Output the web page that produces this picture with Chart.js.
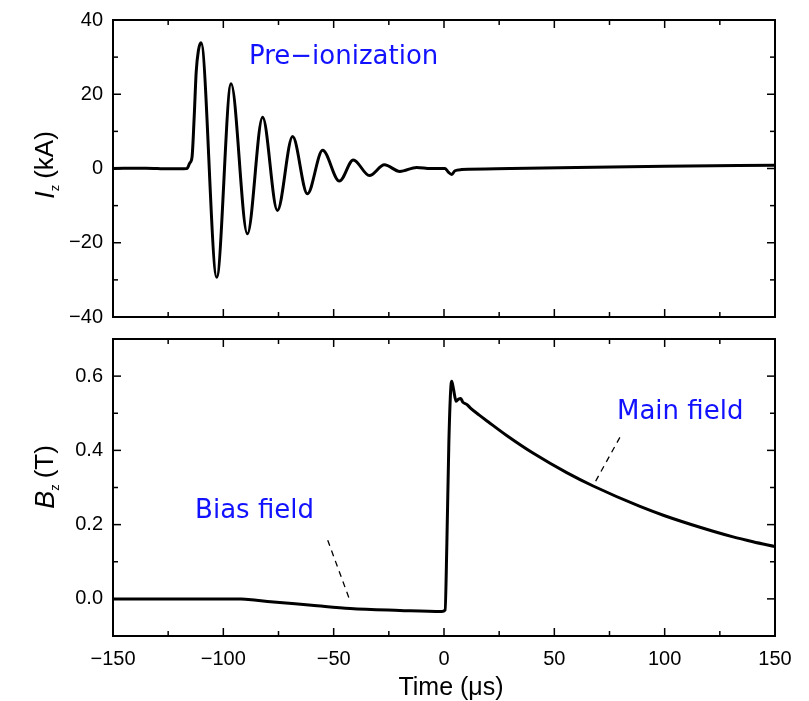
<!DOCTYPE html>
<html>
<head>
<meta charset="utf-8">
<script src="https://cdn.jsdelivr.net/npm/chart.js@4/dist/chart.umd.min.js"></script>
<style>
  html, body { margin: 0; padding: 0; background: #fff; }
  #marco { position: relative; width: 809px; height: 701px; }
  #arriba { position: absolute; left: 0; top: 0; }
  #abajo { position: absolute; left: 0; top: 330px; }
</style>
</head>
<body>
<div id="marco">
  <canvas id="arriba" width="809" height="330"></canvas>
  <canvas id="abajo" width="809" height="371"></canvas>
</div>
<script>
// Datos
// Panel superior: corriente Iz (kA) vs tiempo (us), maximos y minimos de la oscilacion
const tiempoI = [-150, -135, -125, -116.5, -115.2, -114.2, -113.2, -112.3, -111.3, -110.1, -103,
  -96.5, -89.1, -82.2, -75.5, -68.6, -61.9, -55, -47.4, -41.1, -33.8, -27, -20, -12.4, -6,
  0.5, 2, 3.5, 5, 8, 30, 60, 100, 150];
const corriente = [0, 0.1, -0.1, 0, 1.5, 3, 14, 26, 31.8, 33.9, -29.3,
  22.8, -17.6, 13.8, -11.3, 8.6, -6.8, 4.9, -3.4, 2.3, -1.9, 1.0, -0.8, 0.3, 0,
  0, -1.0, -1.6, -0.6, -0.3, 0, 0.3, 0.6, 0.9];

// Panel inferior: campo Bz (T) vs tiempo (us)
const tiempoB = [-150, -120, -92, -85, -80, -60, -42.5, -20, -1, 0.5, 1.3, 2.2, 3.0, 3.5, 4.3, 5.5, 6.5,
  7.6, 8.5, 10.3, 12, 16, 20, 28.4, 40.5, 55.6, 67.6, 88.8, 100, 116, 131, 140, 150];
const campo = [0, 0, 0, -0.004, -0.007, -0.017, -0.026, -0.031, -0.034, -0.03, 0.15, 0.42, 0.56, 0.586, 0.565,
  0.532, 0.538, 0.54, 0.53, 0.524, 0.514, 0.495, 0.477, 0.44, 0.392, 0.34, 0.304, 0.249, 0.224, 0.193, 0.167,
  0.154, 0.141];

// Etiquetas de ejes y anotaciones
const ticksTiempo = [-150, -100, -50, 0, 50, 100, 150];
const ticksI = [-40, -20, 0, 20, 40];
const ticksB = [0.0, 0.2, 0.4, 0.6];
const notasI = [{ texto: 'Pre\u2212ionization', t: -88.4, v: 29.9 }];
const notasB = [
  { texto: 'Main field', t: 78.4, v: 0.503 },
  { texto: 'Bias field', t: -112.8, v: 0.237 }
];
const guiasB = [
  { t1: 79.7, v1: 0.435, t2: 67.5, v2: 0.304 },
  { t1: -52.7, v1: 0.158, t2: -42.6, v2: -0.005 }
];

const NEGRO = '#000';
const AZUL = 'rgb(18,18,255)';
const fuenteTicks = { family: 'Liberation Sans, Arial, sans-serif', size: 20 };

function menos(v) {
  return v < 0 ? '\u2212' + Math.abs(v) : String(v);
}

// Quitar el relleno que Chart.js reserva para las etiquetas extremas
function sinRelleno(s) {
  s.paddingTop = 0; s.paddingBottom = 0; s.paddingLeft = 0; s.paddingRight = 0;
}

// Marco, ticks hacia adentro, titulos y anotaciones
const marco = {
  id: 'marco',
  afterDatasetsDraw(chart, args, o) {
    const { ctx, chartArea: a, scales } = chart;
    const x = scales.x, y = scales.y;
    ctx.save();
    ctx.strokeStyle = NEGRO;
    ctx.lineWidth = 1.5;
    const linea = (x1, y1, x2, y2) => {
      ctx.beginPath(); ctx.moveTo(x1, y1); ctx.lineTo(x2, y2); ctx.stroke();
    };
    // ticks eje x (mayores cada 50, menores cada 25)
    for (let v = -150; v <= 150; v += 25) {
      const px = x.getPixelForValue(v);
      const l = v % 50 === 0 ? 8 : 5;
      linea(px, a.bottom, px, a.bottom - l);
      linea(px, a.top, px, a.top + l);
    }
    // ticks eje y
    const n = Math.round((o.yMax - o.yMin) / o.paso);
    for (let i = 0; i <= n; i++) {
      const v = o.yMin + i * o.paso;
      const py = y.getPixelForValue(v);
      const mayor = Math.abs(Math.round(v / o.paso) % 2) === 0;
      const l = mayor ? 8 : 5;
      linea(a.left, py, a.left + l, py);
      linea(a.right, py, a.right - l, py);
    }
    ctx.lineWidth = 2;
    ctx.strokeRect(a.left, a.top, a.right - a.left, a.bottom - a.top);

    // lineas guia punteadas
    ctx.lineWidth = 1.3;
    ctx.setLineDash([6, 5]);
    (o.guias || []).forEach(g => {
      linea(x.getPixelForValue(g.t1), y.getPixelForValue(g.v1), x.getPixelForValue(g.t2), y.getPixelForValue(g.v2));
    });
    ctx.setLineDash([]);

    // anotaciones
    ctx.fillStyle = AZUL;
    ctx.font = '26px "DejaVu Sans", sans-serif';
    ctx.textAlign = 'left';
    ctx.textBaseline = 'middle';
    (o.notas || []).forEach(nn => {
      ctx.fillText(nn.texto, x.getPixelForValue(nn.t), y.getPixelForValue(nn.v));
    });

    // titulo eje y (rotado): letra cursiva + subindice + unidad
    ctx.fillStyle = NEGRO;
    ctx.translate(46, o.tituloY);
    ctx.rotate(-Math.PI / 2);
    const fLetra = 'italic 27px "Liberation Sans", sans-serif';
    const fSub = '13px "Liberation Sans", sans-serif';
    const fUni = '26px "Liberation Sans", sans-serif';
    ctx.font = fLetra; const w1 = ctx.measureText(o.letra).width;
    ctx.font = fSub; const w2 = ctx.measureText('z').width;
    ctx.font = fUni; const w3 = ctx.measureText(o.unidad).width;
    const gap = 6;
    let cx = -(w1 + w2 + gap + w3) / 2;
    ctx.textAlign = 'left';
    ctx.textBaseline = 'middle';
    ctx.font = fLetra; ctx.fillText(o.letra, cx, 0); cx += w1;
    ctx.font = fSub; ctx.fillText('z', cx, 9); cx += w2 + gap;
    ctx.font = fUni; ctx.fillText(o.unidad, cx, 0);
    ctx.setTransform(1, 0, 0, 1, 0, 0);

    // titulo eje x
    if (o.tituloX) {
      ctx.font = '25px "Liberation Sans", sans-serif';
      ctx.textAlign = 'center';
      ctx.textBaseline = 'middle';
      ctx.fillText(o.tituloX, (a.left + a.right) / 2 + 7, a.bottom + 52);
    }
    ctx.restore();
  }
};

function serie(ts, vs) {
  return ts.map((t, i) => ({ x: t, y: vs[i] }));
}

// Grafico superior
new Chart(document.getElementById('arriba'), {
  type: 'line',
  data: {
    datasets: [{
      data: serie(tiempoI, corriente),
      borderColor: NEGRO,
      borderWidth: 3,
      pointRadius: 0,
      cubicInterpolationMode: 'monotone',
      fill: false
    }]
  },
  options: {
    responsive: false,
    animation: false,
    layout: { padding: { top: 20, right: 34, left: 0, bottom: 0 } },
    plugins: {
      legend: { display: false },
      tooltip: { enabled: false },
      marco: { yMin: -40, yMax: 40, paso: 10, letra: 'I', unidad: '(kA)', tituloY: 165, notas: notasI }
    },
    scales: {
      x: {
        type: 'linear', min: -150, max: 150,
        grid: { display: false, drawTicks: false },
        border: { display: false },
        ticks: { display: false },
        afterFit(s) { s.height = 13; sinRelleno(s); }
      },
      y: {
        min: -40, max: 40,
        afterBuildTicks(s) { s.ticks = ticksI.map(v => ({ value: v })); },
        ticks: { font: fuenteTicks, color: NEGRO, padding: 10, callback: v => menos(v) },
        grid: { display: false, drawTicks: false },
        border: { display: false },
        afterFit(s) { s.width = 113; sinRelleno(s); }
      }
    }
  },
  plugins: [marco]
});

// Grafico inferior
new Chart(document.getElementById('abajo'), {
  type: 'line',
  data: {
    datasets: [{
      data: serie(tiempoB, campo),
      borderColor: NEGRO,
      borderWidth: 3,
      pointRadius: 0,
      cubicInterpolationMode: 'monotone',
      fill: false
    }]
  },
  options: {
    responsive: false,
    animation: false,
    layout: { padding: { top: 9, right: 34, left: 0, bottom: 0 } },
    plugins: {
      legend: { display: false },
      tooltip: { enabled: false },
      marco: { yMin: -0.1, yMax: 0.7, paso: 0.1, letra: 'B', unidad: '(T)', tituloY: 147,
        notas: notasB, guias: guiasB, tituloX: 'Time (\u03bcs)' }
    },
    scales: {
      x: {
        type: 'linear', min: -150, max: 150,
        afterBuildTicks(s) { s.ticks = ticksTiempo.map(v => ({ value: v })); },
        grid: { display: false, drawTicks: false },
        border: { display: false },
        ticks: { font: fuenteTicks, color: NEGRO, padding: 11, maxRotation: 0, callback: v => menos(v) },
        afterFit(s) { s.height = 65; sinRelleno(s); }
      },
      y: {
        min: -0.1, max: 0.7,
        afterBuildTicks(s) { s.ticks = ticksB.map(v => ({ value: v })); },
        ticks: { font: fuenteTicks, color: NEGRO, padding: 10, callback: v => v.toFixed(1) },
        grid: { display: false, drawTicks: false },
        border: { display: false },
        afterFit(s) { s.width = 113; sinRelleno(s); }
      }
    }
  },
  plugins: [marco]
});
</script>
</body>
</html>
